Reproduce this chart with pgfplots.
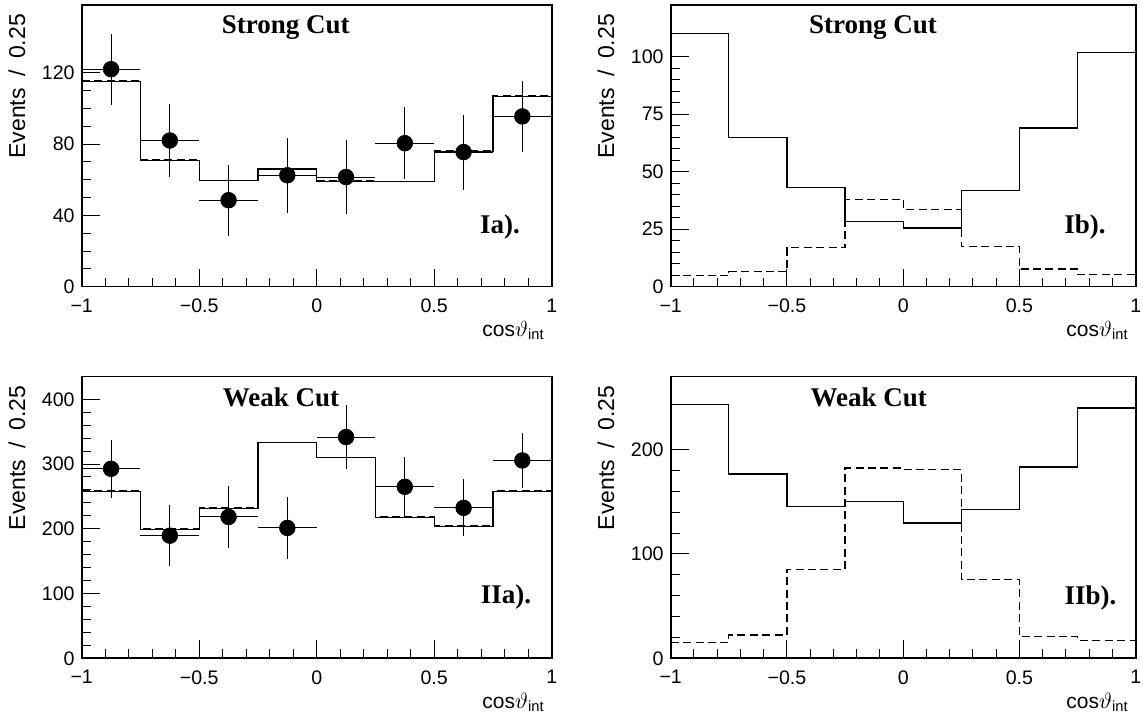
\documentclass[border=0pt]{standalone}
\usepackage{fontspec}
\setmainfont{Liberation Serif}
\setsansfont{Liberation Sans}
\usepackage{amsmath}
\usepackage{pgfplots}
\pgfplotsset{compat=1.18}

% one ROOT-like panel
\pgfplotsset{
  panel/.style={
    scale only axis, width=235pt, height=140.85pt,
    xmin=-1, xmax=1,
    axis line style={line width=0.8pt},
    tick align=inside, xtick pos=left, ytick pos=left,
    xtick={-1,-0.5,0,0.5,1}, xticklabels={−1,−0.5,0,0.5,1},
    minor x tick num=4,
    major tick length=9pt, minor tick length=4.4pt,
    every tick/.style={line width=0.5pt, black},
    ticklabel style={font=\sffamily\fontsize{9.8}{11}\selectfont},
    xticklabel style={yshift=-2.5pt},
    /pgf/number format/assume math mode=true,
    xlabel={cos$\vartheta_{\text{\sffamily int}}$},
    xlabel style={at={(rel axis cs:1,0)}, anchor=base east, yshift=-25pt,
      font=\sffamily\fontsize{10.5}{12}\selectfont},
    ylabel={Events\hspace{0.5em}/\hspace{0.5em}0.25},
    ylabel style={at={([xshift=-28.3pt,yshift=-1pt]rel axis cs:0,1)}, anchor=base east,
      font=\sffamily\fontsize{11.5}{13}\selectfont},
  },
  hist/.style={const plot, black, line width=0.6pt, forget plot},
  histd/.style={const plot, black, line width=0.6pt, dash pattern=on 4pt off 2.2pt, forget plot},
  pts/.style={only marks, black, mark=*, mark size=3.9pt,
    error bars/.cd, x dir=both, x explicit, y dir=both, y explicit,
    error mark=none, error bar style={line width=0.5pt}},
}
\tikzset{tag/.style={font=\bfseries\fontsize{13.5}{15}\selectfont, anchor=base}}

\begin{document}
\begin{tikzpicture}
\useasboundingbox (0,0) rectangle (571.5pt,357.5pt);

% Ia
\begin{axis}[panel, at={(40.85pt,214.15pt)}, anchor=south west,
  ymin=0, ymax=158, ytick={0,40,80,120}, minor y tick num=3]
\addplot[histd] coordinates {(-1,115.5) (-0.75,71.5) (-0.5,59.5) (-0.25,66.5) (0,59.5) (0.25,59) (0.5,76.5) (0.75,107) (1,107)};
\addplot[hist] coordinates {(-1,115) (-0.75,71) (-0.5,59.5) (-0.25,66) (0,59) (0.25,59) (0.5,76) (0.75,106.5) (1,106.5)};
\addplot[pts] table[x=x, y=y, x error=ex, y error=ey] {
x y ex ey
-0.875 122 0.125 20
-0.625 82 0.125 20.5
-0.375 48.5 0.125 20
-0.125 62.5 0.125 21
0.125 61.5 0.125 20.5
0.375 80.5 0.125 20.2
0.625 75.5 0.125 21
0.875 95.5 0.125 20
};
\node[tag] at (rel axis cs:0.434,0.90) {Strong Cut};
\node[tag] at (rel axis cs:0.89,0.19) {Ia).};
\end{axis}

% Ib
\begin{axis}[panel, width=232.5pt, at={(335.35pt,214.15pt)}, anchor=south west,
  ymin=0, ymax=122.5, ytick={0,25,50,75,100}, minor y tick num=4]
\addplot[hist] coordinates {(-1,110) (-0.75,65) (-0.5,43) (-0.25,28.5) (0,25.5) (0.25,42) (0.5,69) (0.75,102) (1,102)};
\addplot[histd] coordinates {(-1,4.8) (-0.75,6.5) (-0.5,17) (-0.25,38) (0,33.5) (0.25,17.5) (0.5,7.7) (0.75,5.2) (1,5.2)};
\node[tag] at (rel axis cs:0.435,0.90) {Strong Cut};
\node[tag] at (rel axis cs:0.891,0.19) {Ib).};
\end{axis}

% IIa
\begin{axis}[panel, at={(40.85pt,28.35pt)}, anchor=south west,
  ymin=0, ymax=435, ytick={0,100,200,300,400}, minor y tick num=4]
\addplot[histd] coordinates {(-1,258.5) (-0.75,200) (-0.5,232) (-0.25,333) (0,310) (0.25,218.5) (0.5,204.5) (0.75,258.5) (1,258.5)};
\addplot[hist] coordinates {(-1,258) (-0.75,198.7) (-0.5,231) (-0.25,333) (0,310) (0.25,218) (0.5,204) (0.75,258) (1,258)};
\addplot[pts] table[x=x, y=y, x error=ex, y error=ey] {
x y ex ey
-0.875 292.6 0.125 45
-0.625 189.4 0.125 47
-0.375 218.3 0.125 48
-0.125 201.3 0.125 48
0.125 341.7 0.125 49
0.375 264.8 0.125 46
0.625 232.3 0.125 44
0.875 305.5 0.125 43
};
\node[tag] at (rel axis cs:0.424,0.895) {Weak Cut};
\node[tag] at (rel axis cs:0.903,0.196) {IIa).};
\end{axis}

% IIb
\begin{axis}[panel, width=232.5pt, at={(335.35pt,28.35pt)}, anchor=south west,
  ymin=0, ymax=270, ytick={0,100,200}, minor y tick num=4]
\addplot[hist] coordinates {(-1,243.2) (-0.75,176.6) (-0.5,145.6) (-0.25,150.4) (0,129.6) (0.25,142.4) (0.5,183.4) (0.75,240) (1,240)};
\addplot[histd] coordinates {(-1,15) (-0.75,22.4) (-0.5,85.4) (-0.25,182.4) (0,180.8) (0.25,75.2) (0.5,20.8) (0.75,17) (1,17)};
\node[tag] at (rel axis cs:0.426,0.895) {Weak Cut};
\node[tag] at (rel axis cs:0.903,0.19) {IIb).};
\end{axis}
\end{tikzpicture}
\end{document}
